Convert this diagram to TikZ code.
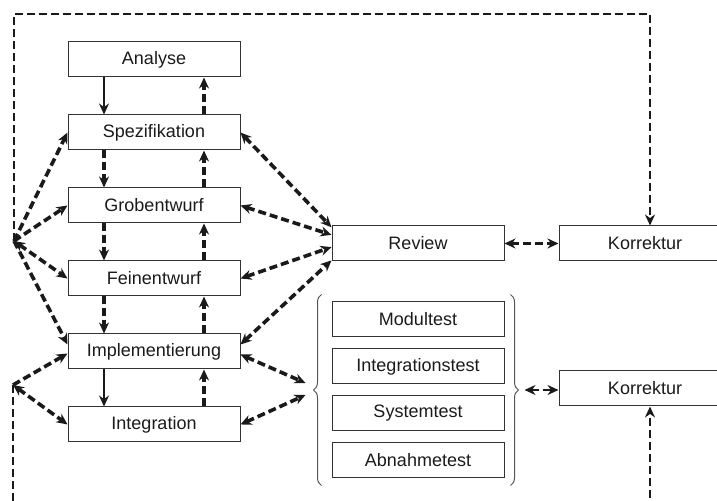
\documentclass[tikz,border=0pt]{standalone}
\usepackage{fontspec}
\setmainfont{Liberation Sans}
\usepackage{tikz}
\usetikzlibrary{arrows.meta, positioning, calc, decorations.pathreplacing}
\definecolor{wfInk}{HTML}{1A1A1A}
\definecolor{wfBorder}{HTML}{333333}
\definecolor{wfBrace}{HTML}{555555}

\begin{document}
\begin{tikzpicture}[
  %% --- Node styles ---
  phase/.style={
    rectangle,
    minimum width=86pt, minimum height=17.5pt,
    inner sep=0pt, text centered, font=\fontsize{9}{11}\selectfont,
    draw=wfBorder, text=wfInk, line width=0.5pt
  },
  testbox/.style={phase},
  %% --- Arrow styles ---
  arrow/.style={-{Stealth[length=5.5pt, width=5pt]}, line width=0.6pt, draw=wfInk},
  arrowDash/.style={-{Stealth[length=5.5pt, width=5pt]}, line width=1.8pt, draw=wfInk,
    dash pattern=on 4pt off 2pt},
  arrowBoth/.style={arrowDash, {Stealth[length=5.5pt, width=5pt]}-{Stealth[length=5.5pt, width=5pt]}},
  arrowLoop/.style={arrowDash, line width=1.4pt},
  brace/.style={decorate, decoration={brace, amplitude=4pt}, line width=0.5pt, draw=wfBrace}
]
\useasboundingbox (0,0) rectangle (358.5pt,-250.5pt);

%% =========================================================
%% NODES — phases (left column)
%% =========================================================
\node (analyse) [phase] at (77pt,-29.75pt) {Analyse};
\node (spez)    [phase, below=18.5pt of analyse] {Spezifikation};
\node (grob)    [phase, below=18.5pt of spez]    {Grobentwurf};
\node (fein)    [phase, below=18.5pt of grob]    {Feinentwurf};
\node (impl)    [phase, below=18.5pt of fein]    {Implementierung};
\node (integ)   [phase, below=18.5pt of impl]    {Integration};

%% =========================================================
%% NODES — review, tests, corrections
%% =========================================================
\node (review)  [phase, right=45.5pt of grob, yshift=-19pt] {Review};
\node (korr1)   [phase, right=27pt of review] {Korrektur};

\node (modul)     [testbox, below=20pt of review]     {Modultest};
\node (integtest) [testbox, below=5.5pt of modul]     {Integrationstest};
\node (system)    [testbox, below=5.5pt of integtest] {Systemtest};
\node (abnahme)   [testbox, below=5.5pt of system]    {Abnahmetest};

\node (korr2)   [phase, below=54.5pt of korr1] {Korrektur};

%% braces round the tests
\coordinate (tcL) at ($(modul.north west)!0.5!(abnahme.south west)$);
\coordinate (tcR) at ($(modul.north east)!0.5!(abnahme.south east)$);
\draw[brace] ([xshift=-5pt, yshift=-3.5pt]abnahme.south west)
    -- ([xshift=-5pt, yshift=3.5pt]modul.north west);
\draw[brace] ([xshift=3pt, yshift=3.5pt]modul.north east)
    -- ([xshift=3pt, yshift=-3.5pt]abnahme.south east);

\coordinate (braceLa) at ([xshift=-13pt, yshift=3.5pt]tcL);
\coordinate (braceLb) at ([xshift=-13pt, yshift=-2.5pt]tcL);
\coordinate (braceR)  at ([xshift=10pt]tcR);

%% fan points
\coordinate (fanT) at (7pt,-120.5pt);
\coordinate (fanB) at (6.5pt,-192.5pt);

%% =========================================================
%% SPINE ARROWS
%% =========================================================
\draw[arrow]     ([xshift=-25pt]analyse.south) -- ([xshift=-25pt]spez.north);
\draw[arrowDash] ([xshift=-25pt]spez.south)    -- ([xshift=-25pt]grob.north);
\draw[arrowDash] ([xshift=-25pt]grob.south)    -- ([xshift=-25pt]fein.north);
\draw[arrowDash] ([xshift=-25pt]fein.south)    -- ([xshift=-25pt]impl.north);
\draw[arrow]     ([xshift=-25pt]impl.south)    -- ([xshift=-25pt]integ.north);

\draw[arrowDash] ([xshift=25pt]spez.north)  -- ([xshift=25pt]analyse.south);
\draw[arrowDash] ([xshift=25pt]grob.north)  -- ([xshift=25pt]spez.south);
\draw[arrowDash] ([xshift=25pt]fein.north)  -- ([xshift=25pt]grob.south);
\draw[arrowDash] ([xshift=25pt]impl.north)  -- ([xshift=25pt]fein.south);
\draw[arrowDash] ([xshift=25pt]integ.north) -- ([xshift=25pt]impl.south);

%% =========================================================
%% REVIEW / TEST ARROWS
%% =========================================================
\draw[arrowBoth] (spez.east) -- ($(review.north west)!0.05!(review.south west)$);
\draw[arrowBoth] (grob.east) -- ($(review.north west)!0.26!(review.south west)$);
\draw[arrowBoth] (fein.east) -- ($(review.north west)!0.6!(review.south west)$);
\draw[arrowBoth] ([yshift=3.5pt]impl.east) -- ($(review.north west)!0.97!(review.south west)$);

\draw[arrowBoth] ([yshift=-1.5pt]impl.east) -- (braceLa);
\draw[arrowBoth] (integ.east) -- (braceLb);

\draw[arrowBoth, line width=1.4pt] (review) -- (korr1);
\draw[arrowBoth, line width=1.4pt] (braceR) -- (braceR -| korr2.west);

%% =========================================================
%% FAN ARROWS (left side)
%% =========================================================
\draw[arrowDash] (fanT) -- (spez.west);
\draw[arrowDash] (fanT) -- (grob.west);
\draw[arrowBoth] (fanT) -- (fein.west);
\draw[arrowDash] (fanT) -- ([yshift=3.5pt]impl.west);
\draw[arrowDash] (fanB) -- ([yshift=-1pt]impl.west);
\draw[arrowBoth] (fanB) -- (integ.west);

%% correction loops
\draw[arrowLoop] (fanT) -- ++(0,113.5pt) -| ([xshift=2.5pt]korr1.north);
\draw[arrowLoop] (fanB) -- ++(0,-70pt) -| ([xshift=2.5pt]korr2.south);

\end{tikzpicture}
\end{document}
